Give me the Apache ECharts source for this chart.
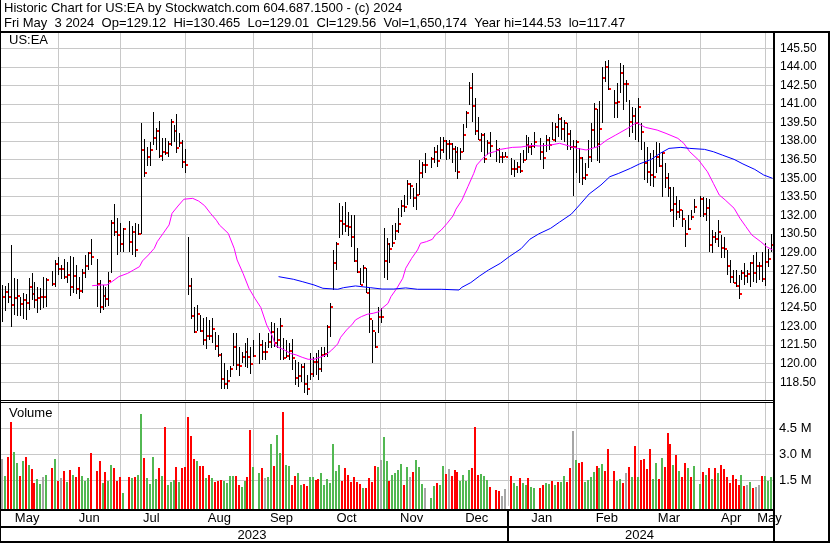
<!DOCTYPE html>
<html><head><meta charset="utf-8">
<script src="https://cdn.jsdelivr.net/npm/echarts/dist/echarts.min.js"></script>
<style>html,body{margin:0;padding:0;background:#fff;}#c{width:830px;height:543px;}</style>
</head><body><div id="c"></div>
<script>
// ---------- categories: every weekday from 2023-05-04 to 2024-05-03 (market holidays stay as empty slots) ----------
const firstDay = '2023-05-04', lastDay = '2024-05-03';
const dates = [];
for (let t = Date.parse(firstDay); t <= Date.parse(lastDay); t += 864e5) {
  const d = new Date(t), wd = d.getUTCDay();
  if (wd > 0 && wd < 6) dates.push(d.toISOString().slice(0, 10));
}
const monthLineDates = ['2023-06-01','2023-06-30','2023-08-01','2023-09-01','2023-09-29','2023-11-01','2023-12-01','2024-01-01','2024-02-01','2024-03-01','2024-04-01','2024-05-01'];
const monthLabelNames = ['May','Jun','Jul','Aug','Sep','Oct','Nov','Dec','Jan','Feb','Mar','Apr','May'];
const yearLabels = ['2023','2024'];
const yearStartDate = '2024-01-01';
const priceTicks = {min: 117, max: 147, step: 1.5};
const volTicks = {min: 0, max: 6, step: 1.5}; // millions

// ---------- daily high / low / close (null = no bar) ----------
const high = [null,
126.4,126.31,126.5,129.6,126.9,126.85,125.43,125.7,125.6,126.9,127.3,126.64,126.24,126.1,127.04,126.9,null,
127.5,128.39,128.6,127.99,128.44,128.25,128.71,128.66,127.99,127.04,127.63,128.79,129.06,130.06,null,
128.44,126.77,126.37,126.18,127.39,131.62,132.92,131.76,131.41,131.0,null,
131.54,131.14,131.35,131.3,139.49,138.17,137.55,137.95,140.38,139.03,139.65,138.27,138.27,138.0,139.78,139.3,140.19,138.62,138.09,137.36,
130.28,126.9,124.62,124.75,123.94,123.67,123.81,123.54,123.67,122.59,122.33,120.84,120.03,119.5,119.82,122.46,122.46,121.38,120.98,121.65,122.06,121.38,121.92,null,
122.46,121.92,121.79,122.46,123.4,123.27,122.86,123.67,122.06,121.92,121.65,121.97,120.3,120.17,120.0,120.03,119.09,120.84,120.57,120.84,121.11,121.38,121.38,
123.13,124.89,129.2,129.87,132.97,132.75,133.1,132.3,132.03,132.03,129.33,127.72,127.99,127.72,126.1,123.54,122.59,124.62,124.48,
130.95,130.14,129.74,131.22,131.35,132.57,133.23,133.64,134.85,134.64,134.18,134.58,136.47,136.33,137.06,null,
136.74,137.55,137.68,138.36,138.36,138.09,138.09,137.82,137.6,137.55,137.41,139.35,140.43,142.8,143.47,141.45,139.92,138.62,138.62,138.09,138.76,null,
138.09,137.41,137.14,137.14,null,136.6,136.47,136.33,137.01,137.28,138.49,138.36,137.82,138.76,null,
138.22,137.87,138.49,138.36,139.57,139.43,140.19,139.97,139.7,139.43,138.89,138.09,138.09,137.41,136.74,136.2,138.09,139.43,141.05,140.6,141.2,144.01,144.5,144.53,null,
142.13,142.67,144.34,144.15,142.94,141.32,140.78,140.65,141.45,139.43,137.95,137.55,137.01,137.28,137.95,137.82,137.14,136.2,135.39,134.31,134.3,133.6,133.2,132.4,131.6,132.03,132.43,133.3,null,
133.6,133.5,133.4,133.3,130.81,130.68,131.62,130.41,130.28,129.2,128.39,127.58,127.58,127.18,127.58,128.12,127.58,128.25,128.79,129.06,128.25,129.06,129.74,129.25,130.465];

const low = [null,
123.4,124.27,124.9,123.0,123.95,123.89,123.89,123.6,123.5,124.38,125.16,124.48,124.08,124.35,124.48,124.56,null,
126.29,126.23,127.18,126.83,126.85,126.56,125.5,125.75,125.61,125.26,125.69,126.93,127.58,127.99,null,
124.62,124.13,124.35,124.62,124.67,127.31,130.3,128.79,129.06,129.06,null,
129.06,128.79,128.6,130.41,130.5,135.12,136.01,136.01,137.68,137.28,136.6,136.41,136.87,136.74,137.6,137.95,137.06,137.55,135.85,135.44,
125.56,123.6,122.51,122.65,122.59,121.52,121.17,121.92,121.71,121.11,120.57,117.93,117.93,117.93,118.96,119.85,119.5,119.04,120.03,119.77,119.63,119.15,120.57,null,
119.95,120.3,120.3,121.25,121.25,121.38,121.25,120.3,120.3,120.44,120.3,119.5,118.28,118.15,118.5,117.61,117.47,118.69,118.96,119.09,118.66,119.36,120.57,
120.57,122.19,125.96,127.58,130.14,130.41,130.68,130.33,129.47,128.2,127.31,126.37,126.5,125.7,122.46,120.03,121.3,122.46,123.32,
126.91,126.77,128.12,129.47,130.0,130.54,131.89,132.29,132.83,133.29,132.7,132.43,133.64,134.99,135.39,null,
135.8,136.2,135.93,136.52,137.01,136.47,136.52,136.2,135.52,134.9,136.47,137.14,139.03,140.92,139.57,138.49,138.09,137.14,136.2,136.87,136.74,null,
136.33,136.25,136.25,136.68,null,135.26,135.12,135.39,135.39,136.2,136.47,137.01,136.87,137.41,null,
136.47,135.71,137.14,137.28,138.09,137.95,138.36,138.09,137.95,137.28,137.28,133.56,135.39,134.58,134.45,134.85,135.8,136.33,137.41,136.4,136.2,139.49,142.8,142.13,null,
139.84,139.84,141.86,140.51,141.18,138.36,138.62,138.09,137.95,137.28,134.85,134.58,134.37,134.31,135.39,135.93,133.5,134.18,133.5,132.3,131.08,131.6,131.76,131.08,129.47,130.8,131.6,132.16,null,
131.9,131.9,131.5,129.06,128.93,129.74,129.47,128.52,128.52,127.18,126.5,126.5,126.23,125.21,126.77,126.37,126.5,126.23,126.64,126.56,126.77,126.64,126.29,127.8,129.01];

const close = [null,
125.43,125.83,125.43,124.75,125.35,125.51,124.83,125.18,124.89,126.2,125.64,125.16,125.35,125.43,125.43,126.77,null,
126.45,128.04,127.69,127.69,127.04,127.18,126.23,127.1,126.02,125.88,127.37,127.9,128.98,128.66,null,
126.45,124.59,125.48,125.26,126.72,131.41,130.65,130.44,129.71,130.92,null,
129.84,130.65,129.2,130.49,137.28,135.44,136.74,137.28,138.27,138.84,136.79,137.09,137.01,137.76,139.57,138.84,137.47,137.87,136.31,136.06,
126.29,123.86,122.59,124.02,122.65,121.92,122.24,122.24,122.84,121.46,120.71,118.77,118.39,118.61,119.58,121.38,119.93,119.79,120.57,120.98,120.57,120.01,120.6,null,
121.54,120.98,120.98,121.79,122.59,121.65,121.92,123.08,120.49,120.65,121.06,120.49,118.88,119.04,119.76,118.39,117.96,119.2,120.17,120.17,119.6,120.71,120.79,
123.0,124.62,128.12,129.71,131.57,131.3,131.16,131.08,130.28,128.3,127.45,126.4,127.72,125.75,123.62,122.65,121.38,123.81,123.81,
128.31,129.66,129.28,129.79,130.76,131.3,132.78,132.7,134.5,134.39,133.42,133.67,135.44,136.09,136.09,null,
136.58,137.14,136.41,137.3,138.03,137.76,137.76,137.38,137.14,135.5,137.14,138.49,140.3,142.32,140.86,138.84,138.11,138.49,136.58,137.84,137.6,null,
137.28,136.74,136.74,136.74,null,135.77,135.71,135.93,135.61,136.5,137.68,137.55,137.6,137.92,null,
137.14,136.6,138.09,137.68,138.09,139.11,139.76,138.95,139.43,138.57,137.55,137.55,137.95,136.66,134.99,135.28,136.74,138.89,140.59,137.8,139.0,143.07,144.01,142.21,null,
141.05,141.18,143.53,142.59,142.59,139.57,140.03,139.49,140.78,138.76,136.25,135.52,135.28,135.12,136.74,136.01,137.01,135.04,134.23,132.43,132.92,132.3,132.43,131.7,130.52,130.9,131.89,132.7,null,
133.3,132.11,132.6,129.6,130.28,130.06,130.68,129.33,129.25,127.93,126.99,126.56,126.29,125.64,127.31,127.1,127.23,128.12,127.37,127.93,127.93,126.88,128.2,128.47,129.56];

// ---------- daily volume (millions) and day direction (u up, d down, n unchanged, - none) ----------
const volume = [null,
2.75,1.73,2.81,4.88,3.1,2.5,1.73,2.6,2.81,2.37,2.14,1.34,1.56,1.27,1.67,1.79,null,
2.2,2.72,1.46,1.62,2.03,1.4,2.08,1.79,1.67,2.25,1.71,1.46,1.62,3.07,null,
2.03,2.6,1.32,1.98,1.46,2.37,2.2,1.46,1.67,0.74,null,
1.67,1.62,1.67,1.79,5.33,2.78,1.62,1.29,2.84,1.56,2.2,1.73,4.57,1.21,1.4,1.52,2.25,1.4,2.2,2.25,
5.15,4.07,2.72,2.6,2.31,2.31,1.62,1.79,1.62,1.4,1.46,1.48,1.46,1.32,1.73,1.73,1.73,1.21,1.09,1.46,1.67,4.4,2.25,null,
1.91,2.2,1.62,1.67,3.61,2.31,4.13,3.09,5.44,2.37,2.31,1.21,1.73,1.91,1.21,1.27,1.15,1.67,1.67,1.5,
1.56,1.91,1.21,1.56,1.32,3.61,2.03,2.37,1.46,2.2,1.79,1.4,1.67,1.4,1.27,1.03,1.03,1.62,1.4,2.31,
2.25,2.66,3.99,2.6,1.46,1.79,1.91,2.08,2.43,1.21,2.25,1.67,1.98,2.66,2.27,1.26,1.03,null,
0.47,1.15,1.32,1.21,2.31,1.85,2.13,1.73,2.08,1.98,1.46,1.79,1.46,2.08,2.2,4.57,1.79,1.85,1.71,1.5,1.09,null,
0.92,0.88,0.57,0.98,null,1.73,1.32,1.15,1.62,1.32,1.21,1.62,1.09,1.03,null,
1.03,1.21,1.32,1.26,1.46,1.21,1.38,1.38,1.73,1.38,2.2,4.34,2.66,2.48,2.54,1.38,1.5,1.67,1.96,2.31,2.2,2.43,2.02,3.3,null,
2.02,1.46,1.56,1.32,1.9,2.25,1.67,3.47,1.67,2.66,2.72,2.14,3.3,1.56,2.48,1.56,2.78,2.25,4.22,3.61,2.37,2.95,2.02,1.67,2.48,2.2,1.67,2.31,null,
1.26,1.96,1.79,2.2,1.56,2.2,1.9,2.37,2.14,1.67,1.32,1.79,1.56,1.21,1.79,1.15,1.21,1.38,1.03,1.09,1.21,1.73,1.73,1.44,1.65];

const direction = ('- nudd uudu dudd uunu - dudn dudu dduu ud - ddud uudd du - ' +
  'duduu duuuu duduu ududd dddud dudud dduuu udduu ddu - ' +
  'udnuu duudu udduu dduud duuuu uuudd ddddd udddd unuud uuuud unduu un - ' +
  'uuduu dnddd uuuud dduuu d - ddnn - duuduuduu - dduud uduud dnudd uuuud uudd - ' +
  'duudn dudud ddduu duddd ududd udu - ududu duddd ddddu dnudn nduuu').replace(/ /g, '').split('');

// ---------- moving averages: [slot, value] ----------
const avgShortSlots = [31,34,36,38,40,43,45,47,48,50,52,53,55,57,58,60,62,65,67,69,71,73,74,77,79,80,82,84,86,88,90,92,93,96,98,100,102,104,106,108,110,112,114,115,117,119,120,122,124,126,128,129,131,132,134,136,137,139,141,142,144,146,147,149,151,153,154,156,158,160,161,163,165,167,169,171,173,176,178,180,182,186,189,193,195,198,202,205,208,212,215,218,222,225,229,231,233,236,239,241,243,245,248,250,252,254,257,259,261];
const avgShortValues = [126.31,126.37,126.37,126.69,127.04,127.31,127.58,127.85,128.31,128.79,129.33,129.87,130.54,131.22,132.16,132.75,133.3,133.37,133.15,132.78,132.16,131.6,131.22,130.54,129.33,128.39,127.31,126.1,125.29,124.55,123.13,122.19,121.44,121.11,120.84,120.71,120.52,120.36,120.36,120.52,120.71,121.11,121.6,122.14,122.73,123.21,123.54,123.81,124.0,124.08,124.21,124.48,124.88,125.42,126.1,126.91,127.72,128.52,129.2,129.74,129.87,130.06,130.41,130.81,131.35,131.95,132.5,133.23,134.31,135.39,136.06,136.6,137.01,137.14,137.33,137.41,137.49,137.52,137.6,137.65,137.6,137.68,137.82,137.55,137.41,137.28,137.55,138.09,138.49,139.03,139.49,139.11,138.89,138.62,138.22,137.82,137.14,136.47,135.52,134.58,133.64,133.24,132.57,131.76,131.08,130.41,129.87,129.46,129.2];
const avgLongSlots = [94,99,102,106,109,114,116,120,125,129,133,137,141,149,155,156,159,162,165,169,172,176,179,182,186,189,193,196,199,203,206,209,213,216,220,223,226,230,233,238,241,244,248,251,255,258,261];
const avgLongValues = [127.04,126.83,126.64,126.37,126.1,126.02,126.15,126.29,126.15,126.04,126.04,126.13,126.02,126.02,125.96,126.18,126.56,127.1,127.58,128.12,128.66,129.3,130.07,130.5,130.95,131.45,132.1,132.9,133.72,134.45,135.12,135.39,135.8,136.15,136.52,137.01,137.41,137.49,137.41,137.33,137.14,136.87,136.52,136.15,135.71,135.26,134.99];

// ---------- derived structures ----------
const FONT = '"Liberation Sans", Arial, sans-serif';
const GRID = '#c8c8c8';
const dirCode = {u: 1, d: -1, n: 0};
const volColor = {'1': '#52b852', '-1': '#ff0000', '0': '#a6a6a6'};

const priceData = [], volData = [];
dates.forEach((d, i) => {
  if (high[i] != null) priceData.push([i, high[i], low[i], close[i]]);
  if (volume[i] != null) volData.push([i, volume[i], dirCode[direction[i]] ?? 0]);
});
const idxOf = {}; dates.forEach((d, i) => idxOf[d] = i);
const lineIdx = monthLineDates.map(d => idxOf[d]);
const lineSet = new Set(lineIdx);
const bounds = [0].concat(lineIdx, [dates.length]);
const monthLabelAt = {};
monthLabelNames.forEach((m, k) => { monthLabelAt[Math.floor((bounds[k] + bounds[k + 1] - 1) / 2)] = m; });
const yearIdx = idxOf[yearStartDate];
const yearLabelAt = {};
yearLabelAt[Math.floor((0 + yearIdx - 1) / 2)] = yearLabels[0];
yearLabelAt[Math.floor((yearIdx + dates.length - 1) / 2)] = yearLabels[1];

function renderBar(params, api) {
  const i = api.value(0);
  const pH = api.coord([i, api.value(1)]);
  const pL = api.coord([i, api.value(2)]);
  const pC = api.coord([i, api.value(3)]);
  const band = api.size([1, 0])[0];
  const xl = Math.round(pH[0] - band / 2);
  const y1 = Math.round(pH[1]);
  const y2 = Math.max(Math.round(pL[1]), y1 + 1);
  return {type: 'group', children: [
    {type: 'rect', shape: {x: xl, y: y1, width: 1, height: y2 - y1}, style: {fill: '#000'}},
    {type: 'rect', shape: {x: xl + 1, y: Math.round(pC[1]) - 1, width: 2, height: 2}, style: {fill: '#ff0000'}}
  ]};
}
function renderVol(params, api) {
  const i = api.value(0);
  const pT = api.coord([i, api.value(1)]);
  const pB = api.coord([i, 0]);
  const band = api.size([1, 0])[0];
  const xl = Math.round(pT[0] - band / 2) - 1;
  const yT = Math.round(pT[1]);
  return {type: 'rect', shape: {x: xl, y: yT, width: 2, height: Math.round(pB[1]) + 3 - yT},
          style: {fill: volColor[String(api.value(2))]}};
}

const chart = echarts.init(document.getElementById('c'), null, {renderer: 'canvas'});
const blackRect = (x, y, w, h) => ({type: 'rect', shape: {x, y, width: w, height: h}, style: {fill: '#000'}, z: 100, silent: true});
const txt = (x, y, s, size) => ({type: 'text', x, y, z: 101, silent: true,
  style: {text: s, fill: '#000', font: size + 'px ' + FONT, verticalAlign: 'middle', align: 'left'}});

const chrome = [
  {type: 'rect', shape: {x: 0, y: 0, width: 830, height: 31}, style: {fill: '#fff'}, z: 99, silent: true},
  blackRect(0, 31, 830, 2),
  blackRect(0, 400, 774, 1),
  blackRect(0, 402, 774, 1),
  blackRect(0, 509, 774, 2),
  blackRect(0, 526, 774, 2),
  blackRect(0, 541, 830, 2),
  blackRect(0, 0, 1, 543),
  blackRect(773, 31, 2, 512),
  blackRect(828, 31, 2, 512),
  txt(4, 8.5, 'Historic Chart for US:EA by Stockwatch.com 604.687.1500 - (c) 2024', 13),
  txt(4, 23.5, 'Fri May  3 2024  Op=129.12  Hi=130.465  Lo=129.01  Cl=129.56  Vol=1,650,174  Year hi=144.53  lo=117.47', 13),
  txt(9, 40.5, 'US:EA', 13),
  txt(9, 413.5, 'Volume', 13)
];

chart.setOption({
  animation: false,
  backgroundColor: '#ffffff',
  grid: [
    {left: -1, right: 56, top: 29.75, height: 371.1, outerBoundsMode: 'none'},
    {left: -1, right: 56, top: 402.5, height: 103.4, outerBoundsMode: 'none'}
  ],
  xAxis: [
    {type: 'category', gridIndex: 0, position: 'bottom', data: dates, boundaryGap: true,
     axisLine: {show: false}, axisTick: {show: false}, axisLabel: {show: false},
     splitLine: {show: true, interval: (i) => lineSet.has(i), lineStyle: {color: GRID, width: 1}}},
    {type: 'category', gridIndex: 1, position: 'bottom', data: dates, boundaryGap: true,
     axisLine: {show: false}, axisTick: {show: false},
     axisLabel: {show: true, interval: (i) => monthLabelAt[i] !== undefined, formatter: (v, i) => monthLabelAt[i] || '',
                 color: '#000', fontSize: 13, fontFamily: FONT, margin: 6},
     splitLine: {show: true, interval: (i) => lineSet.has(i), lineStyle: {color: GRID, width: 1}}},
    {type: 'category', gridIndex: 1, position: 'bottom', data: dates, boundaryGap: true, offset: 17,
     axisLine: {show: false}, axisTick: {show: false}, splitLine: {show: false},
     axisLabel: {show: true, interval: (i) => yearLabelAt[i] !== undefined, formatter: (v, i) => yearLabelAt[i] || '',
                 color: '#000', fontSize: 13, fontFamily: FONT, margin: 6}}
  ],
  yAxis: [
    {type: 'value', gridIndex: 0, position: 'right', min: priceTicks.min, max: priceTicks.max, interval: priceTicks.step,
     axisLine: {show: false}, axisTick: {show: false},
     axisLabel: {formatter: (v) => v.toFixed(2), color: '#000', fontSize: 12, fontFamily: FONT, margin: 6,
                 showMinLabel: false, showMaxLabel: false},
     splitLine: {show: true, showMinLine: false, showMaxLine: false, lineStyle: {color: GRID, width: 1}}},
    {type: 'value', gridIndex: 1, position: 'right', min: volTicks.min, max: volTicks.max, interval: volTicks.step,
     axisLine: {show: false}, axisTick: {show: false},
     axisLabel: {formatter: (v) => v.toFixed(1) + ' M', color: '#000', fontSize: 13, fontFamily: FONT, margin: 5,
                 showMinLabel: false, showMaxLabel: false},
     splitLine: {show: true, showMinLine: false, showMaxLine: false, lineStyle: {color: GRID, width: 1}}}
  ],
  series: [
    {type: 'custom', name: 'price', xAxisIndex: 0, yAxisIndex: 0, data: priceData, renderItem: renderBar,
     encode: {x: 0, y: [1, 2, 3]}, clip: false, z: 3, silent: true},
    {type: 'line', name: 'avgShort', xAxisIndex: 0, yAxisIndex: 0, data: avgShortSlots.map((s, k) => [s, avgShortValues[k]]),
     showSymbol: false, symbol: 'none', lineStyle: {color: '#ff00ff', width: 1}, z: 4, silent: true},
    {type: 'line', name: 'avgLong', xAxisIndex: 0, yAxisIndex: 0, data: avgLongSlots.map((s, k) => [s, avgLongValues[k]]),
     showSymbol: false, symbol: 'none', lineStyle: {color: '#0000ff', width: 1}, z: 4, silent: true},
    {type: 'custom', name: 'volume', xAxisIndex: 1, yAxisIndex: 1, data: volData, renderItem: renderVol,
     encode: {x: 0, y: 1}, clip: false, z: 3, silent: true}
  ],
  graphic: chrome
});

// year separator: a vertical rule at the left edge of the first 2024 slot, located through the axis scale
const band = chart.getModel().getComponent('xAxis', 1).axis.getBandWidth();
const sepX = Math.round(chart.convertToPixel({xAxisIndex: 1}, yearIdx) - band / 2) - 1;
chart.setOption({graphic: chrome.concat([blackRect(sepX, 509, 2, 34)])});
</script></body></html>
